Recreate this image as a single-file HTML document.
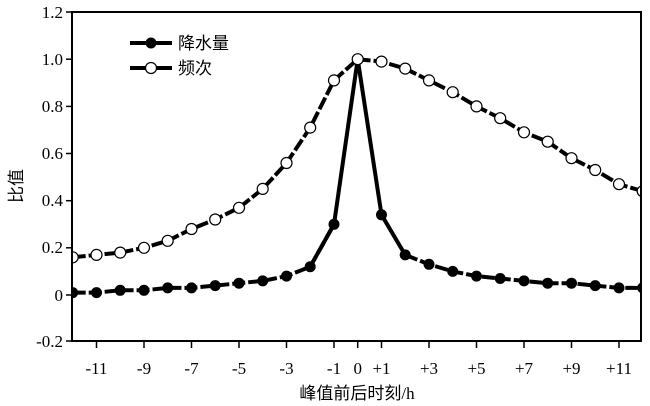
<!DOCTYPE html>
<html><head><meta charset="utf-8"><style>body{margin:0;background:#fff}svg{display:block}</style></head><body>
<svg width="650" height="406" xmlns="http://www.w3.org/2000/svg" font-family="'Liberation Serif','Noto Serif CJK SC',serif">
<defs><clipPath id="c"><rect x="72" y="12" width="569" height="329"/></clipPath></defs>
<g clip-path="url(#c)">
<polyline fill="none" stroke="#000" stroke-width="4" stroke-dasharray="13 3" points="72.7,257.3 96.5,254.9 120.2,252.6 144,247.8 167.7,240.8 191.5,229 215.2,219.5 239,207.8 262.7,188.9 286.5,163 310.2,127.6 334,80.4 357.7,59.2 381.5,61.6 405.2,68.6 429,80.4 452.7,92.2 476.5,106.4 500.2,118.2 524,132.3 547.7,141.7 571.5,158.2 595.2,170 619,184.2 642.7,191.2"/>
<polyline fill="none" stroke="#000" stroke-width="4" stroke-dasharray="13 3" points="72.7,292.6 96.5,292.6 120.2,290.3 144,290.3 167.7,287.9 191.5,287.9 215.2,285.6 239,283.2 262.7,280.9 286.5,276.1 310.2,266.7 334,224.3"/>
<polyline fill="none" stroke="#000" stroke-width="4" points="310.2,266.7 334,224.3 357.7,59.2 381.5,214.8 405.2,254.9"/>
<polyline fill="none" stroke="#000" stroke-width="4" stroke-dasharray="13 3" points="405.2,254.9 429,264.3 452.7,271.4 476.5,276.1 500.2,278.5 524,280.9 547.7,283.2 571.5,283.2 595.2,285.6 619,287.9 642.7,287.9"/>
<g fill="#fff" stroke="#000" stroke-width="1.2">
<circle cx="72.7" cy="257.3" r="5.5"/><circle cx="96.5" cy="254.9" r="5.5"/><circle cx="120.2" cy="252.6" r="5.5"/><circle cx="144" cy="247.8" r="5.5"/><circle cx="167.7" cy="240.8" r="5.5"/><circle cx="191.5" cy="229" r="5.5"/><circle cx="215.2" cy="219.5" r="5.5"/><circle cx="239" cy="207.8" r="5.5"/><circle cx="262.7" cy="188.9" r="5.5"/><circle cx="286.5" cy="163" r="5.5"/><circle cx="310.2" cy="127.6" r="5.5"/><circle cx="334" cy="80.4" r="5.5"/><circle cx="357.7" cy="59.2" r="5.5"/><circle cx="381.5" cy="61.6" r="5.5"/><circle cx="405.2" cy="68.6" r="5.5"/><circle cx="429" cy="80.4" r="5.5"/><circle cx="452.7" cy="92.2" r="5.5"/><circle cx="476.5" cy="106.4" r="5.5"/><circle cx="500.2" cy="118.2" r="5.5"/><circle cx="524" cy="132.3" r="5.5"/><circle cx="547.7" cy="141.7" r="5.5"/><circle cx="571.5" cy="158.2" r="5.5"/><circle cx="595.2" cy="170" r="5.5"/><circle cx="619" cy="184.2" r="5.5"/><circle cx="642.7" cy="191.2" r="5.5"/>
</g>
<g fill="#000">
<circle cx="72.7" cy="292.6" r="5.5"/><circle cx="96.5" cy="292.6" r="5.5"/><circle cx="120.2" cy="290.3" r="5.5"/><circle cx="144" cy="290.3" r="5.5"/><circle cx="167.7" cy="287.9" r="5.5"/><circle cx="191.5" cy="287.9" r="5.5"/><circle cx="215.2" cy="285.6" r="5.5"/><circle cx="239" cy="283.2" r="5.5"/><circle cx="262.7" cy="280.9" r="5.5"/><circle cx="286.5" cy="276.1" r="5.5"/><circle cx="310.2" cy="266.7" r="5.5"/><circle cx="334" cy="224.3" r="5.5"/><circle cx="381.5" cy="214.8" r="5.5"/><circle cx="405.2" cy="254.9" r="5.5"/><circle cx="429" cy="264.3" r="5.5"/><circle cx="452.7" cy="271.4" r="5.5"/><circle cx="476.5" cy="276.1" r="5.5"/><circle cx="500.2" cy="278.5" r="5.5"/><circle cx="524" cy="280.9" r="5.5"/><circle cx="547.7" cy="283.2" r="5.5"/><circle cx="571.5" cy="283.2" r="5.5"/><circle cx="595.2" cy="285.6" r="5.5"/><circle cx="619" cy="287.9" r="5.5"/><circle cx="642.7" cy="287.9" r="5.5"/>
</g>
</g>
<rect x="72" y="12" width="569" height="329" fill="none" stroke="#000" stroke-width="2"/>
<g stroke="#000" stroke-width="1.5">
<line x1="66" y1="12" x2="72" y2="12"/><line x1="66" y1="59.2" x2="72" y2="59.2"/><line x1="66" y1="106.4" x2="72" y2="106.4"/><line x1="66" y1="153.5" x2="72" y2="153.5"/><line x1="66" y1="200.7" x2="72" y2="200.7"/><line x1="66" y1="247.8" x2="72" y2="247.8"/><line x1="66" y1="295" x2="72" y2="295"/><line x1="66" y1="341" x2="72" y2="341"/>
<line x1="96.5" y1="341" x2="96.5" y2="348"/><line x1="144" y1="341" x2="144" y2="348"/><line x1="191.5" y1="341" x2="191.5" y2="348"/><line x1="239" y1="341" x2="239" y2="348"/><line x1="286.5" y1="341" x2="286.5" y2="348"/><line x1="334" y1="341" x2="334" y2="348"/><line x1="357.7" y1="341" x2="357.7" y2="348"/><line x1="381.5" y1="341" x2="381.5" y2="348"/><line x1="429" y1="341" x2="429" y2="348"/><line x1="476.5" y1="341" x2="476.5" y2="348"/><line x1="524" y1="341" x2="524" y2="348"/><line x1="571.5" y1="341" x2="571.5" y2="348"/><line x1="619" y1="341" x2="619" y2="348"/>
</g>
<g font-size="17" text-anchor="end">
<text x="63" y="18">1.2</text><text x="63" y="65">1.0</text><text x="63" y="112">0.8</text><text x="63" y="159">0.6</text><text x="63" y="206">0.4</text><text x="63" y="253">0.2</text><text x="63" y="301">0</text><text x="63" y="347">-0.2</text>
</g>
<g font-size="17" text-anchor="middle">
<text x="96.5" y="374">-11</text><text x="144" y="374">-9</text><text x="191.5" y="374">-7</text><text x="239" y="374">-5</text><text x="286.5" y="374">-3</text><text x="334" y="374">-1</text><text x="357.7" y="374">0</text><text x="381.5" y="374">+1</text><text x="429" y="374">+3</text><text x="476.5" y="374">+5</text><text x="524" y="374">+7</text><text x="571.5" y="374">+9</text><text x="619" y="374">+11</text>
</g>
<text x="357" y="399" font-size="17" text-anchor="middle" font-family="'Liberation Serif','Noto Sans CJK SC',sans-serif">峰值前后时刻/h</text>
<text transform="translate(22,186) rotate(-90)" font-size="17" text-anchor="middle" font-family="'Noto Sans CJK SC',sans-serif">比值</text>
<line x1="130" y1="43" x2="172" y2="43" stroke="#000" stroke-width="4"/><circle cx="151" cy="43" r="5.5" fill="#000"/>
<line x1="130" y1="68" x2="172" y2="68" stroke="#000" stroke-width="4"/><circle cx="151" cy="68" r="5.5" fill="#fff" stroke="#000" stroke-width="1.2"/>
<g font-size="17" font-family="'Noto Sans CJK SC',sans-serif"><text x="178" y="49">降水量</text><text x="178" y="74">频次</text></g>
</svg>
</body></html>
